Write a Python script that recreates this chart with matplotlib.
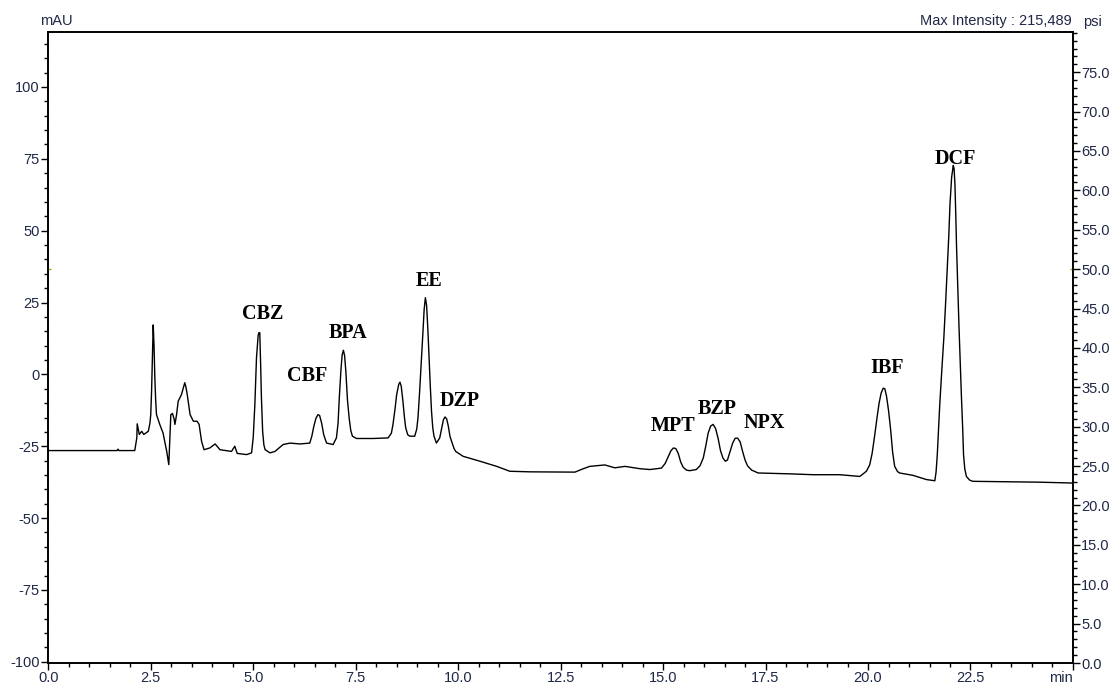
import matplotlib
matplotlib.use("Agg")
import matplotlib.pyplot as plt
from matplotlib.ticker import MultipleLocator, FixedLocator

# detector trace: retention time (min)
time_min = [
    0.00, 1.68, 1.70, 1.72, 2.11, 2.16, 2.17, 2.22, 2.28, 2.33, 2.44, 2.48, 2.50, 2.52,
    2.54, 2.56, 2.58, 2.60, 2.62, 2.64, 2.72, 2.80, 2.89, 2.94, 2.99, 3.03, 3.07, 3.09,
    3.13, 3.17, 3.25, 3.29, 3.33, 3.36, 3.39, 3.46, 3.54, 3.63, 3.68, 3.74, 3.80, 3.94,
    4.07, 4.19, 4.47, 4.55, 4.61, 4.84, 4.96, 5.00, 5.04, 5.08, 5.12, 5.14, 5.16, 5.18,
    5.20, 5.23, 5.26, 5.29, 5.41, 5.53, 5.73, 5.90, 6.14, 6.38, 6.43, 6.48, 6.53, 6.58,
    6.62, 6.67, 6.72, 6.79, 6.95, 7.03, 7.07, 7.10, 7.14, 7.17, 7.20, 7.23, 7.26, 7.30,
    7.34, 7.38, 7.42, 7.52, 7.93, 8.29, 8.37, 8.41, 8.46, 8.50, 8.55, 8.58, 8.61, 8.65,
    8.69, 8.72, 8.77, 8.82, 8.94, 8.99, 9.02, 9.06, 9.10, 9.14, 9.17, 9.20, 9.23, 9.26,
    9.29, 9.32, 9.35, 9.38, 9.41, 9.47, 9.55, 9.60, 9.64, 9.68, 9.72, 9.76, 9.80, 9.84,
    9.90, 9.94, 10.12, 10.53, 10.94, 11.26, 11.75, 12.85, 13.02, 13.21, 13.58, 13.82,
    14.07, 14.43, 14.68, 14.96, 15.05, 15.12, 15.19, 15.25, 15.31, 15.37, 15.43, 15.49,
    15.57, 15.65, 15.81, 15.90, 15.98, 16.04, 16.10, 16.16, 16.22, 16.28, 16.34, 16.40,
    16.46, 16.52, 16.57, 16.63, 16.70, 16.76, 16.82, 16.88, 16.94, 17.00, 17.06, 17.16,
    17.32, 18.09, 18.66, 19.31, 19.80, 19.96, 20.04, 20.10, 20.16, 20.22, 20.27, 20.32,
    20.37, 20.41, 20.45, 20.50, 20.55, 20.60, 20.65, 20.72, 20.77, 21.09, 21.43, 21.63,
    21.66, 21.69, 21.72, 21.75, 21.80, 21.85, 21.89, 21.93, 21.97, 22.00, 22.04, 22.08,
    22.10, 22.12, 22.14, 22.16, 22.19, 22.22, 22.25, 22.28, 22.31, 22.33, 22.36, 22.40,
    22.48, 22.56, 24.19, 25.00]
# detector trace: absorbance (mAU)
signal_mau = [
    -26.5, -26.5, -26.0, -26.5, -26.5, -22.1, -17.2, -20.9, -19.8, -20.9, -19.8, -17.0, -14.0, -6.0,
    5.0, 17.2, 10.0, -1.2, -9.0, -14.0, -17.4, -20.4, -26.8, -31.4, -14.0, -13.6, -15.5, -17.4,
    -14.0, -9.3, -7.0, -5.0, -2.9, -4.5, -7.0, -14.0, -16.3, -16.3, -17.4, -23.3, -26.2, -25.6,
    -24.2, -26.2, -26.8, -25.0, -27.5, -27.9, -27.3, -22.0, -10.5, 5.8, 13.5, 14.5, 14.5, 4.0,
    -8.0, -19.8, -24.5, -26.2, -27.3, -26.8, -24.4, -23.9, -24.2, -23.9, -21.5, -18.0, -15.3, -14.0,
    -14.3, -17.0, -21.0, -23.9, -24.4, -22.1, -17.0, -8.2, 1.5, 6.8, 8.4, 6.5, 1.0, -9.0,
    -15.1, -19.5, -21.5, -22.3, -22.3, -22.1, -20.5, -17.4, -12.0, -7.0, -3.5, -2.7, -4.0, -9.0,
    -15.0, -18.6, -21.0, -21.5, -21.5, -19.0, -15.1, -6.0, 4.0, 14.5, 22.5, 26.7, 24.0, 16.0,
    5.8, -4.0, -12.8, -18.5, -21.5, -23.9, -22.1, -18.5, -15.8, -14.8, -15.5, -18.0, -21.5, -23.3,
    -25.8, -26.8, -28.5, -30.2, -32.0, -33.7, -33.9, -34.0, -33.0, -32.0, -31.5, -32.5,
    -32.0, -32.8, -33.1, -32.6, -31.0, -28.8, -26.6, -25.6, -25.8, -27.5, -30.5, -32.3,
    -33.3, -33.5, -33.1, -31.8, -29.1, -25.0, -20.4, -18.0, -17.4, -18.8, -22.1, -26.5,
    -29.1, -30.2, -29.8, -27.0, -23.8, -22.2, -22.2, -23.5, -26.8, -29.8, -31.8, -33.3,
    -34.3, -34.6, -34.9, -34.9, -35.5, -33.7, -31.5, -27.5, -21.5, -15.0, -10.0, -6.5,
    -4.8, -5.0, -7.5, -12.5, -19.0, -27.0, -32.0, -33.8, -34.3, -35.1, -36.6, -37.0,
    -34.0, -27.9, -19.5, -10.5, 1.5, 12.8, 24.0, 36.0, 48.0, 59.3, 68.6, 72.7,
    71.5, 66.3, 56.0, 44.2, 30.0, 16.3, 4.0, -8.2, -19.0, -27.9, -32.8, -35.5,
    -36.8, -37.2, -37.5, -37.8]

# pressure trace end points (psi)
pressure_time = [0.0, 25.0]
pressure_psi = [50.0, 50.0]

# compound labels and where they sit
peak_names = ["CBZ", "CBF", "BPA", "EE", "DZP", "MPT", "BZP", "NPX", "IBF", "DCF"]
label_time = [5.24, 6.31, 7.31, 9.28, 10.04, 15.24, 16.31, 17.46, 20.46, 22.12]
label_mau = [21.0, -0.6, 14.4, 32.5, -9.3, -18.0, -12.1, -17.0, 2.2, 74.8]

tick_color = "#1f2847"
plt.rcParams["font.family"] = ["Liberation Sans", "DejaVu Sans"]
plt.rcParams["axes.unicode_minus"] = False

fig = plt.figure(figsize=(11.15, 6.84), dpi=100)
ax = fig.add_axes([0.0433, 0.0307, 0.9190, 0.9225])
ax2 = ax.twinx()

ax.plot(time_min, signal_mau, color="black", lw=1.0)
ax2.plot(pressure_time, pressure_psi, ls="none", marker="_", ms=5, mew=1.0,
         color="#a8a030")

for name, t, v in zip(peak_names, label_time, label_mau):
    ax.text(t, v, name, ha="center", va="center", fontsize=14.5, fontweight="bold",
            family="Liberation Serif", color="black")

ax.set_xlim(0, 25)
ax.set_ylim(-100.4, 119.1)
ax2.set_ylim(0, 80.1)

xt = [0, 2.5, 5, 7.5, 10, 12.5, 15, 17.5, 20, 22.5, 25]
ax.xaxis.set_major_locator(FixedLocator(xt))
ax.set_xticklabels(["%.1f" % v for v in xt[:-1]] + ["min"])
ax.get_xticklabels()[-1].set_horizontalalignment("right")
ax.xaxis.set_minor_locator(MultipleLocator(0.5))
ax.yaxis.set_major_locator(FixedLocator([-100, -75, -50, -25, 0, 25, 50, 75, 100]))
ax.yaxis.set_minor_locator(MultipleLocator(5))
ax2.yaxis.set_major_locator(FixedLocator([5 * i for i in range(16)]))
ax2.set_yticklabels(["%.1f" % (5 * i) for i in range(16)])
ax2.yaxis.set_minor_locator(MultipleLocator(1))

for a in (ax, ax2):
    a.tick_params(which="major", length=5, width=1.0, pad=1, labelsize=10.5,
                  labelcolor=tick_color, color="black")
    a.tick_params(which="minor", length=3, width=1.0, color="black")
    for s in a.spines.values():
        s.set_linewidth(1.2)
ax.tick_params(axis="y", which="both", right=False)

ax.text(-0.008, 1.006, "mAU", transform=ax.transAxes, ha="left", va="bottom",
        fontsize=10.5, color=tick_color)
ax.text(0.999, 1.006, "Max Intensity : 215,489", transform=ax.transAxes, ha="right",
        va="bottom", fontsize=10.5, color=tick_color)
ax.text(1.01, 1.004, "psi", transform=ax.transAxes, ha="left", va="bottom",
        fontsize=10.5, color=tick_color)

fig.savefig("out.png", dpi=100)
